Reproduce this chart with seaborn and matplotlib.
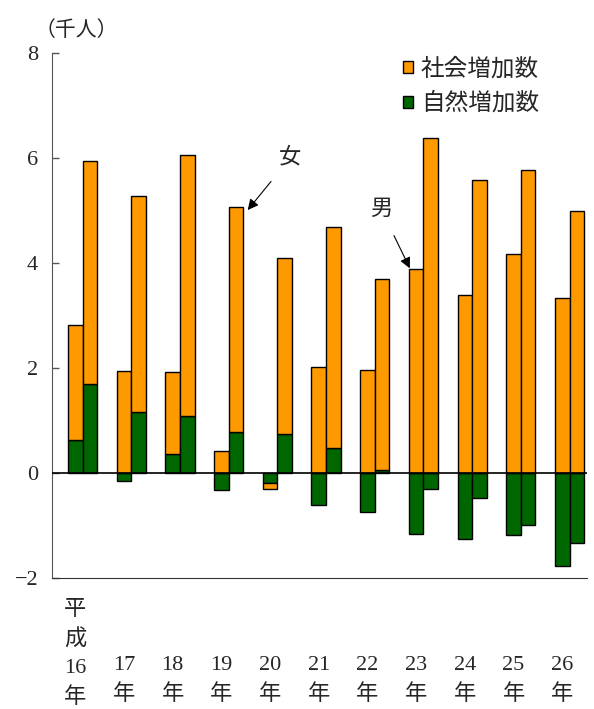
import numpy as np
import seaborn as sns
from matplotlib import pyplot as plt
from matplotlib.patches import Patch

# 値（千人）
years = ["16", "17", "18", "19", "20", "21", "22", "23", "24", "25", "26"]
male_social = [2.18, 1.94, 1.56, 0.41, -0.11, 2.02, 1.96, 3.88, 3.39, 4.18, 3.33]
male_natural = [0.63, -0.15, 0.36, -0.32, -0.20, -0.61, -0.75, -1.17, -1.26, -1.19, -1.77]
female_social = [4.24, 4.12, 4.98, 4.28, 3.36, 4.22, 3.64, 6.39, 5.59, 5.78, 5.00]
female_natural = [1.70, 1.16, 1.08, 0.78, 0.74, 0.47, 0.05, -0.31, -0.47, -0.99, -1.34]

ORANGE = "#FF9900"
GREEN = "#006600"

sns.set_style("ticks")
plt.rcParams['font.family'] = ['Liberation Serif', 'Noto Sans CJK JP']
plt.rcParams['axes.unicode_minus'] = True

fig = plt.figure(figsize=(5.94, 7.09), dpi=100)
ax = fig.add_axes([0.0875, 0.185, 0.9, 0.74])

x = np.arange(len(years))
w = 0.30


def stacked(ax, xpos, natural, social):
    # Excel風の積み上げ（正と負を別々に積む）
    pos = np.zeros(len(xpos))
    neg = np.zeros(len(xpos))
    for vals, col in [(natural, GREEN), (social, ORANGE)]:
        vals = np.array(vals)
        bottom = np.where(vals >= 0, pos, neg)
        ax.bar(xpos, vals, width=w, bottom=bottom, color=col,
               edgecolor="black", linewidth=1.0, zorder=3)
        pos = pos + np.where(vals >= 0, vals, 0)
        neg = neg + np.where(vals < 0, vals, 0)


stacked(ax, x - w / 2, male_natural, male_social)
stacked(ax, x + w / 2, female_natural, female_social)

ax.axhline(0, color="black", linewidth=1.2, zorder=4)

ax.set_ylim(-2, 8)
ax.set_yticks([-2, 0, 2, 4, 6, 8])
ax.set_xlim(-0.63, 10.35)
ax.tick_params(axis="y", direction="in", length=5, width=1, color="#555555",
               labelsize=16, pad=10)
labels = ["平\n成\n16\n年"] + ["\n\n" + y + "\n年" for y in years[1:]]
ax.set_xticks(x - w / 2)
ax.set_xticklabels(labels, fontsize=16, linespacing=1.58)
ax.tick_params(axis="x", length=0, pad=17)

sns.despine(ax=ax)
ax.spines["left"].set_color("#555555")
ax.spines["bottom"].set_color("#333333")

ax.text(0.045, 1.042, "（千人）", transform=ax.transAxes, ha="center",
        va="center", fontsize=15)

handles = [Patch(facecolor=ORANGE, edgecolor="black", label="社会増加数"),
           Patch(facecolor=GREEN, edgecolor="black", label="自然増加数")]
ax.legend(handles=handles, loc="upper right", bbox_to_anchor=(0.951, 1.031),
          frameon=False, fontsize=17, handlelength=0.4, handleheight=0.4,
          handletextpad=0.35, labelspacing=0.5)

ax.annotate("女", xy=(3.39, 5.01), xytext=(4.26, 6.0), fontsize=16,
            ha="center", va="center",
            arrowprops=dict(arrowstyle="-|>", color="black", lw=0.8,
                            mutation_scale=16, shrinkA=9, shrinkB=0))
ax.annotate("男", xy=(6.72, 3.90), xytext=(6.14, 5.01), fontsize=16,
            ha="center", va="center",
            arrowprops=dict(arrowstyle="-|>", color="black", lw=0.8,
                            mutation_scale=16, shrinkA=10, shrinkB=0))

fig.savefig("out.png", dpi=100)
